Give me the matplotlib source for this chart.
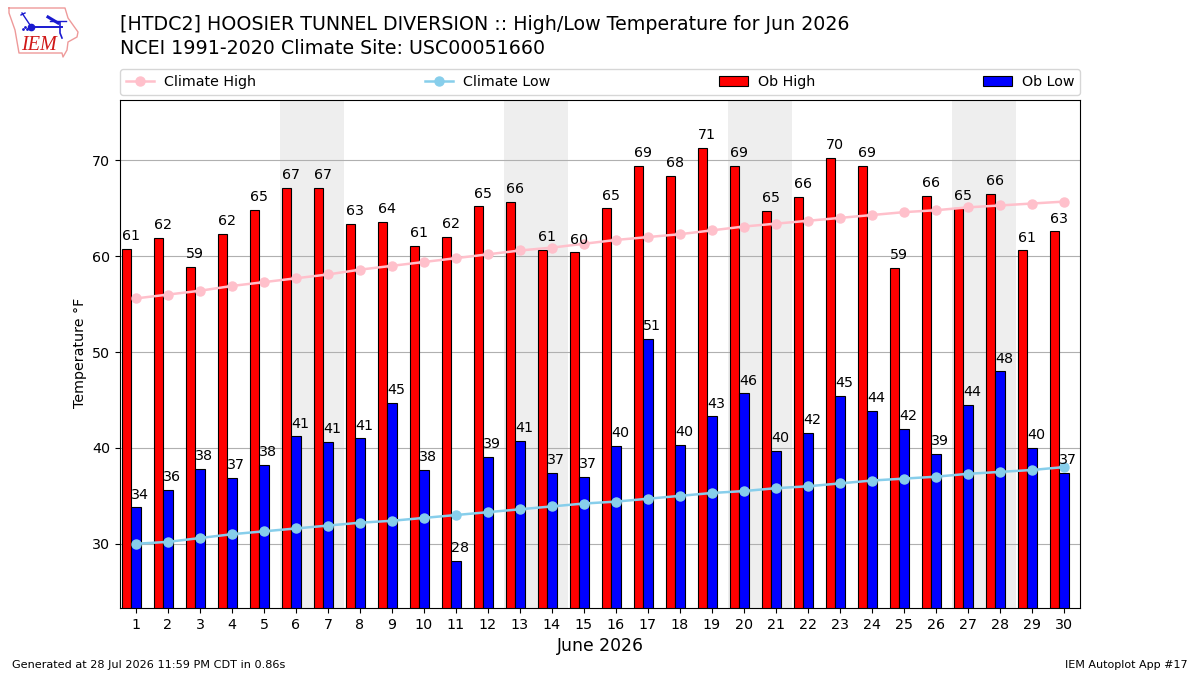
import matplotlib
matplotlib.use("Agg")
import matplotlib.pyplot as plt

days = list(range(1, 31))
ob_high = [60.8, 61.9, 58.9, 62.3, 64.8, 67.1, 67.1, 63.4, 63.6, 61.1,
           62.0, 65.2, 65.7, 60.7, 60.4, 65.0, 69.4, 68.4, 71.3, 69.4,
           64.7, 66.2, 70.3, 69.4, 58.8, 66.3, 65.0, 66.5, 60.6, 62.6]
ob_low = [33.8, 35.6, 37.8, 36.9, 38.2, 41.2, 40.6, 41.0, 44.7, 37.7,
          28.2, 39.1, 40.7, 37.4, 37.0, 40.2, 51.4, 40.3, 43.3, 45.7,
          39.7, 41.6, 45.4, 43.9, 42.0, 39.4, 44.5, 48.0, 40.0, 37.4]
climate_high = [55.6, 56.0, 56.4, 56.9, 57.3, 57.7, 58.1, 58.6, 59.0, 59.4,
                59.8, 60.2, 60.6, 60.9, 61.3, 61.7, 62.0, 62.3, 62.7, 63.1,
                63.4, 63.7, 64.0, 64.3, 64.6, 64.8, 65.1, 65.3, 65.5, 65.7]
climate_low = [30.0, 30.2, 30.6, 31.0, 31.3, 31.6, 31.9, 32.2, 32.4, 32.7,
               33.0, 33.3, 33.6, 33.9, 34.2, 34.4, 34.7, 35.0, 35.3, 35.5,
               35.8, 36.0, 36.3, 36.6, 36.8, 37.0, 37.3, 37.5, 37.7, 38.0]
weekends = [(6, 7), (13, 14), (20, 21), (27, 28)]

BAR_W = 0.3
LABEL_SIZE = 10.3
W, H = 1200, 675

fig = plt.figure(figsize=(12, 6.75), dpi=100)
ax = fig.add_axes([120 / W, 1 - 608 / H, 960 / W, 508 / H])

for first, last in weekends:
    ax.axvspan(first - 0.5, last + 0.5, color="#eeeeee", lw=0, zorder=0)
ax.yaxis.grid(True, color="#b0b0b0", lw=0.8, zorder=1)
ax.set_axisbelow(True)

high_x = [d - BAR_W for d in days]
bars_high = ax.bar(high_x, ob_high, width=BAR_W, color="red", edgecolor="black",
                   lw=0.8, label="Ob High", zorder=2)
bars_low = ax.bar(days, ob_low, width=BAR_W, color="blue", edgecolor="black",
                  lw=0.8, label="Ob Low", zorder=2)

line_high, = ax.plot(days, climate_high, "-o", color="pink", lw=1.8, ms=6.5,
                     label="Climate High", zorder=3)
line_low, = ax.plot(days, climate_low, "-o", color="skyblue", lw=1.8, ms=6.5,
                    label="Climate Low", zorder=3)

# Value labels sit above each bar, flush with the bar's left edge
for x, v in zip(high_x, ob_high):
    ax.text(x - BAR_W / 2, v + 0.6, f"{v:.0f}", ha="left", va="bottom",
            fontsize=LABEL_SIZE, zorder=4)
for x, v in zip(days, ob_low):
    ax.text(x - BAR_W / 2, v + 0.6, f"{v:.0f}", ha="left", va="bottom",
            fontsize=LABEL_SIZE, zorder=4)

ax.set_xlim(0.5, 30.5)
ax.set_ylim(23.3, 76.3)
ax.set_xticks(days)
ax.set_yticks([30, 40, 50, 60, 70])
ax.tick_params(labelsize=LABEL_SIZE)
ax.set_ylabel("Temperature °F", fontsize=LABEL_SIZE, y=0.502)
ax.set_xlabel("June 2026", fontsize=12.4)

ax.legend(handles=[line_high, line_low, bars_high, bars_low],
          loc="lower left", bbox_to_anchor=(0, 1.01, 1, 0.05), mode="expand",
          ncol=4, borderaxespad=0, fontsize=LABEL_SIZE, handletextpad=0.7)

fig.text(120 / W, 1 - 25 / H, "[HTDC2] HOOSIER TUNNEL DIVERSION :: High/Low Temperature for Jun 2026",
         fontsize=13.7, va="center")
fig.text(120 / W, 1 - 48 / H, "NCEI 1991-2020 Climate Site: USC00051660",
         fontsize=13.7, va="center")
fig.text(12 / W, 1 - 665 / H, "Generated at 28 Jul 2026 11:59 PM CDT in 0.86s",
         fontsize=8.1, va="center")
fig.text(1188 / W, 1 - 665 / H, "IEM Autoplot App #17", fontsize=8, va="center", ha="right")

# Logo: state outline, station glyph and wordmark, laid out in pixel units
logo = fig.add_axes([0, 0, 1, 1], facecolor="none")
logo.set_xlim(0, W)
logo.set_ylim(H, 0)
logo.axis("off")
outline_x = [9, 65, 68, 78, 77, 68, 67, 63, 62, 19, 15, 9, 9]
outline_y = [8, 8, 18, 32, 37, 42, 50, 57, 53, 53, 30, 13, 8]
logo.plot(outline_x, outline_y, color="#ee9a9a", lw=1)
blue = "#1a1ad0"
logo.plot([31, 62], [27, 27], color=blue, lw=1.4)
logo.plot([22, 30], [13, 25], color=blue, lw=1)
logo.plot([21, 25], [15, 13], color=blue, lw=1)
logo.plot([48, 58], [17, 23], color=blue, lw=2.2)
logo.plot([50, 66], [21, 21], color=blue, lw=1)
logo.plot([60, 60, 62], [22, 33, 38], color=blue, lw=1.2)
logo.plot([31], [27], "o", color=blue, ms=4.5)
logo.plot([23, 25, 27], [29, 27, 29], ".", color=blue, ms=2)
logo.text(21, 45, "IEM", family="Liberation Serif", style="italic", color="#d01818",
          fontsize=14.5, va="center")

fig.savefig("out.png", dpi=100)
